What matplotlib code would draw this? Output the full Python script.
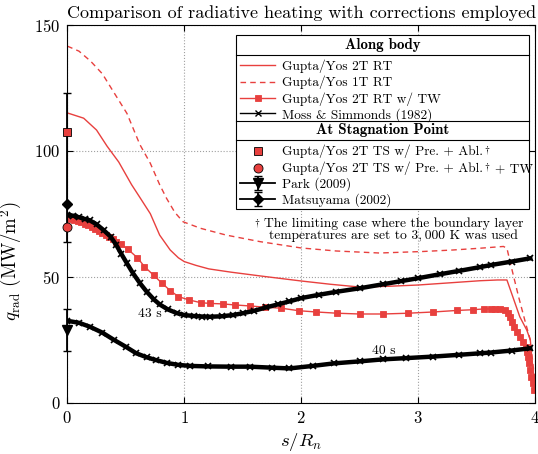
import matplotlib
matplotlib.use("Agg")
import matplotlib.pyplot as plt
from matplotlib.lines import Line2D
from matplotlib.patches import Rectangle
from matplotlib.legend import Legend

plt.rcParams['font.family'] = ['cmr10', 'DejaVu Serif']
plt.rcParams['mathtext.fontset'] = 'cm'
plt.rcParams['axes.formatter.use_mathtext'] = True
plt.rcParams['axes.unicode_minus'] = False

red = '#e8403e'

# Gupta/Yos 2T RT (along body)
s_2t = [0.0, 0.14, 0.25, 0.34, 0.44, 0.55, 0.62, 0.71, 0.79, 0.88, 0.95, 1.0, 1.1, 1.21,
        1.4, 1.65, 2.0, 2.25, 2.5, 2.75, 3.0, 3.25, 3.53, 3.68, 3.76, 3.80, 3.87, 3.93,
        3.96, 3.98, 4.0]
q_2t = [115.0, 112.9, 108.2, 101.8, 95.5, 86.5, 81.5, 75.0, 66.5, 60.6, 57.5, 56.0, 54.5,
        53.1, 51.8, 50.3, 48.3, 47.0, 45.9, 46.2, 46.7, 47.5, 48.4, 48.7, 48.7, 43.4,
        34.1, 28.8, 24.9, 14.0, 5.0]

# Gupta/Yos 1T RT
s_1t = [0.0, 0.1, 0.2, 0.3, 0.4, 0.51, 0.62, 0.71, 0.79, 0.85, 0.92, 0.99, 1.14, 1.36,
        1.65, 2.0, 2.3, 2.67, 3.04, 3.3, 3.53, 3.73, 3.76, 3.79, 3.86, 3.92, 3.96, 4.0]
q_1t = [141.5, 139.5, 135.5, 130.5, 123.0, 114.8, 102.5, 95.0, 86.5, 81.0, 75.5, 71.8,
        69.2, 66.5, 63.9, 61.4, 60.2, 59.4, 60.0, 60.6, 61.3, 62.0, 61.3, 55.3, 42.0,
        31.5, 24.9, 8.0]

# Gupta/Yos 2T RT w/ TW
s_tw = [0.0, 0.03, 0.06, 0.09, 0.12, 0.15, 0.18, 0.21, 0.24, 0.27, 0.30, 0.33, 0.36,
        0.39, 0.42, 0.46, 0.52, 0.60, 0.66, 0.74, 0.81, 0.88, 0.95, 1.04, 1.14, 1.22,
        1.33, 1.43, 1.56, 1.69, 1.83, 1.98, 2.13, 2.31, 2.50, 2.70, 2.91, 3.13, 3.33,
        3.47, 3.56, 3.62, 3.66, 3.70, 3.74, 3.77, 3.79, 3.80, 3.82, 3.85, 3.87, 3.90,
        3.92, 3.93, 3.94, 3.95, 3.96, 3.97, 3.98, 3.99]
q_tw = [73.3, 73.0, 72.6, 72.2, 71.7, 71.1, 70.5, 69.8, 69.0, 68.2, 67.4, 66.6, 65.7,
        64.8, 63.8, 62.8, 60.8, 57.5, 54.0, 50.5, 47.4, 44.5, 42.1, 40.8, 39.7, 39.4,
        39.2, 38.8, 38.4, 37.9, 37.5, 36.5, 36.0, 35.5, 35.2, 35.2, 35.5, 36.0, 36.6,
        36.9, 37.2, 37.2, 37.2, 37.1, 36.8, 35.5, 33.9, 32.1, 30.2, 28.2, 26.2, 24.2,
        22.2, 20.2, 18.3, 15.6, 13.0, 10.3, 7.7, 5.0]

# Moss & Simmonds (1982), 43 s and 40 s
s_43 = [0.0, 0.05, 0.1, 0.15, 0.19, 0.25, 0.31, 0.37, 0.42, 0.46, 0.51, 0.56, 0.62, 0.68,
        0.74, 0.79, 0.86, 0.94, 1.0, 1.08, 1.15, 1.22, 1.32, 1.42, 1.5, 1.6, 1.7, 1.8,
        1.9, 2.0, 2.15, 2.3, 2.5, 2.7, 2.85, 3.0, 3.19, 3.35, 3.53, 3.62, 3.8, 3.96]
q_43 = [74.5, 74.2, 73.6, 72.9, 72.4, 70.8, 68.5, 65.9, 62.5, 59.2, 55.3, 51.5, 47.5,
        44.0, 41.0, 39.0, 37.0, 35.5, 34.8, 34.4, 34.2, 34.1, 34.3, 34.8, 35.5, 36.5,
        37.8, 39.0, 40.2, 41.5, 42.8, 44.0, 45.4, 47.0, 48.2, 49.4, 51.0, 52.3, 53.8,
        54.6, 56.0, 57.3]
s_40 = [0.0, 0.1, 0.19, 0.3, 0.4, 0.5, 0.59, 0.68, 0.76, 0.85, 0.95, 1.05, 1.2, 1.4,
        1.56, 1.75, 1.9, 2.1, 2.28, 2.5, 2.7, 2.9, 3.13, 3.35, 3.53, 3.62, 3.8, 3.96]
q_40 = [32.5, 31.7, 30.2, 27.8, 24.9, 22.2, 19.6, 18.0, 16.9, 15.8, 15.0, 14.6, 14.4,
        14.3, 14.3, 13.9, 13.6, 14.6, 15.6, 16.4, 17.2, 17.7, 18.3, 19.0, 19.6, 19.9,
        20.7, 21.6]

# stagnation point values
stag_ts = 107.5
stag_ts_tw = 69.8
park_q, park_err = 28.8, 8.3
matsu_q, matsu_lo, matsu_hi = 78.7, 14.8, 44.1

body_labels = ['Gupta/Yos 2T RT', 'Gupta/Yos 1T RT', 'Gupta/Yos 2T RT w/ TW',
               'Moss & Simmonds (1982)']
stag_labels = ['Gupta/Yos 2T TS w/ Pre. + Abl.', 'Gupta/Yos 2T TS w/ Pre. + Abl.',
               'Park (2009)', 'Matsuyama (2002)']

fig = plt.figure(figsize=(5.38, 4.54), dpi=100)
ax = fig.add_axes([0.1251, 0.1130, 0.8693, 0.8326])

l2t, = ax.plot(s_2t, q_2t, color=red, lw=1.0)
l1t, = ax.plot(s_1t, q_1t, color=red, lw=1.0, ls=(0, (4, 3)))
ltw, = ax.plot(s_tw, q_tw, color=red, lw=1.0, marker='s', ms=4.7, mec=red, mew=0.6)
ax.plot(s_43, q_43, color='k', lw=3.2, marker='x', ms=4, mew=1.2)
ax.plot(s_40, q_40, color='k', lw=3.2, marker='x', ms=4, mew=1.2)
moss = Line2D([], [], color='k', lw=1.0, marker='x', ms=4, mew=1.0)

matsu = ax.errorbar([0], [matsu_q], yerr=[[matsu_lo], [matsu_hi]], fmt='D-', color='k',
                    ms=5.5, capsize=3, lw=1.3, zorder=5)
park = ax.errorbar([0], [park_q], yerr=[park_err], fmt='v-', color='k',
                   ms=7, capsize=3, lw=1.3, zorder=5)
for c in (matsu, park):
    for a in c.get_children():
        a.set_clip_on(False)
lts, = ax.plot([0], [stag_ts], 's', color=red, mec='k', ms=5.5, mew=0.6,
               clip_on=False, zorder=6)
ltstw, = ax.plot([0], [stag_ts_tw], 'o', color=red, mec='k', ms=6.5, mew=0.6,
                 clip_on=False, zorder=6)

ax.text(0.707, 35.2, '43 s', fontsize=9.8, ha='center', va='center')
ax.text(2.71, 20.7, '40 s', fontsize=9.8, ha='center', va='center')

ax.set_xlim(0, 4)
ax.set_ylim(0, 150)
ax.set_xticks([0, 1, 2, 3, 4])
ax.set_yticks([0, 50, 100, 150])
ax.grid(True, color='#a0a0a0', ls=':', lw=0.8)
ax.tick_params(direction='in', top=True, right=True, length=4, labelsize=12, pad=5)
for sp in ax.spines.values():
    sp.set_linewidth(0.8)

ax.set_title('Comparison of radiative heating with corrections employed', fontsize=13, pad=5)
ax.set_xlabel('$s/R_n$', fontsize=13.5)
ax.set_ylabel(r'$q_{\mathrm{rad}}$ (MW/m$^2$)', fontsize=13.5)
ax.yaxis.set_label_coords(-0.093, 0.375)

# legend frame with section headers
x0, x1 = 0.361, 0.987
ax.add_patch(Rectangle((x0, 0.512), x1 - x0, 0.461, transform=ax.transAxes,
                       fc='white', ec='k', lw=0.8, zorder=10))
for yy in (0.919, 0.744, 0.694):
    ax.add_artist(Line2D([x0, x1], [yy, yy], transform=ax.transAxes, color='k',
                         lw=0.8, zorder=11))
ax.text((x0 + x1) / 2, 0.946, 'Along body', family='cmb10', fontsize=10.8,
        ha='center', va='center', transform=ax.transAxes, zorder=12)
ax.text((x0 + x1) / 2, 0.721, 'At Stagnation Point', family='cmb10', fontsize=10.8,
        ha='center', va='center', transform=ax.transAxes, zorder=12)

# one single-row legend per entry, so each row sits where the reference has it
leg_fs = 9.6
rows = [(l2t, body_labels[0], 0.890), (l1t, body_labels[1], 0.847),
        (ltw, body_labels[2], 0.803), (moss, body_labels[3], 0.762),
        (lts, stag_labels[0], 0.664), (ltstw, stag_labels[1], 0.619),
        (park, stag_labels[2], 0.578), (matsu, stag_labels[3], 0.536)]
legs = []
for h, lab, yy in rows:
    lg = Legend(ax, [h], [lab], loc='center left', bbox_to_anchor=(0.369, yy),
                frameon=False, fontsize=leg_fs, borderpad=0, borderaxespad=0,
                handlelength=2.67, handletextpad=0.49)
    lg.set_zorder(12)
    ax.add_artist(lg)
    legs.append(lg)

# daggers (and the trailing "+ TW") set after the plain legend texts
for i in (4, 5):
    t = legs[i].get_texts()[0]
    ax.annotate(r'$\dagger$', xy=(1, 1), xycoords=t, xytext=(0.6, 0.5),
                textcoords='offset points', ha='left', va='top', fontsize=7, zorder=13)
ax.annotate('+ TW', xy=(1, 0), xycoords=legs[5].get_texts()[0], xytext=(8.3, 0),
            textcoords='offset points', ha='left', va='bottom', fontsize=leg_fs, zorder=13)

foot = ax.text(0.698, 0.457, 'The limiting case where the boundary layer\n'
               'temperatures are set to 3,\u2009000 K was used', fontsize=9.8,
               ha='center', va='center', transform=ax.transAxes, linespacing=0.92,
               zorder=12)
ax.annotate(r'$\dagger$', xy=(0, 1), xycoords=foot, xytext=(-2.5, 0.5),
            textcoords='offset points', ha='right', va='top', fontsize=7, zorder=13)

fig.savefig('out.png', dpi=100)
